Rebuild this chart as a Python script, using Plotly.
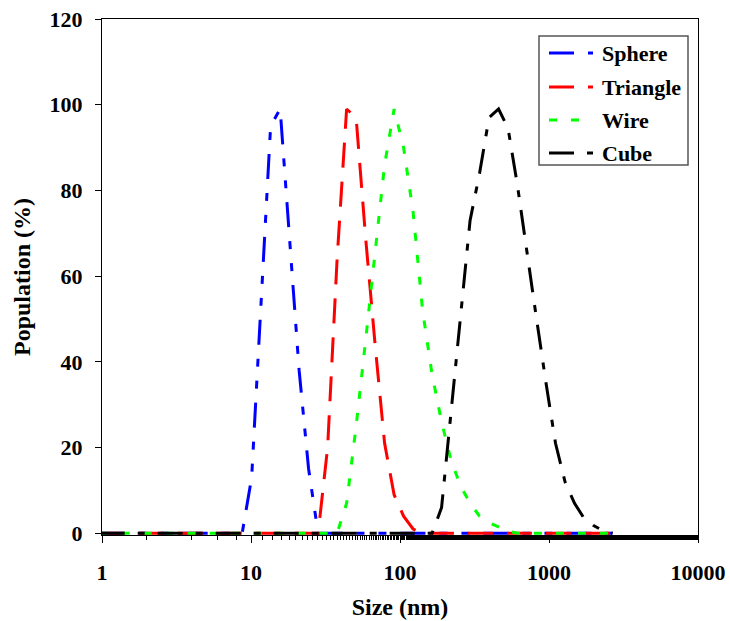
import plotly.graph_objects as go

# Particle size distributions (DLS, number %), one curve per nanoparticle shape
sphere_size = [0.9649, 8.721, 10.10, 11.70, 13.54, 15.69, 18.17, 21.04, 24.36, 28.21, 2669]
sphere_pop = [0, 0, 13, 55, 95, 99, 68, 38, 15, 0, 0]

triangle_size = [0.9649, 28.21, 32.67, 37.84, 43.82, 50.75, 58.77, 68.06, 78.82,
                 91.28, 105.7, 122.4, 141.8, 2669]
triangle_pop = [0, 0, 20, 64, 99, 97, 69, 44, 21, 9, 4, 1, 0, 0]

wire_size = [0.9649, 37.84, 43.82, 50.75, 58.77, 68.06, 78.82, 91.28, 105.7, 122.4,
             141.8, 164.2, 190.1, 220.2, 255.0, 295.3, 342.0, 396.1, 458.7, 531.2,
             615.1, 2669]
wire_pop = [0, 0, 7, 25, 45, 65, 86, 99, 90, 75, 52, 37, 26, 17, 11, 7, 4, 2.5, 1.5,
            0.5, 0, 0]

cube_size = [0.9649, 164.2, 190.1, 220.2, 255.0, 295.3, 342.0, 396.1, 458.7, 531.2,
             615.1, 712.4, 825.0, 955.4, 1106, 1281, 1484, 1718, 1990, 2305, 2669]
cube_pop = [0, 0, 6, 28, 51, 73, 84, 97, 99, 94.5, 81, 65, 50, 35, 21, 12, 7, 3.5,
            1.8, 0.6, 0]

x_tick_vals = [1, 10, 100, 1000, 10000]
x_tick_text = ["1", "10", "100", "1000", "10000"]
y_tick_vals = [0, 20, 40, 60, 80, 100, 120]

series = [
    ("Sphere", sphere_size, sphere_pop, "#0000ff", "25px,14px,8px,14px,8px,14px"),
    ("Triangle", triangle_size, triangle_pop, "#ff0000", "25px,14px"),
    ("Wire", wire_size, wire_pop, "#00ff00", "8px,14px"),
    ("Cube", cube_size, cube_pop, "#000000", "25px,13px,7px,13px"),
]

FONT = "Liberation Serif"
W, H = 730, 621
ML, MR, MT, MB = 102, 32, 19, 86

fig = go.Figure()
for name, xs, ys, color, dash in series:
    fig.add_trace(go.Scatter(
        x=xs, y=ys, mode="lines", name=name,
        line=dict(color=color, width=3, dash=dash),
        showlegend=False,
    ))


def px_to_paper(px, py):
    pw = W - ML - MR
    ph = H - MT - MB
    return (px - ML) / pw, (H - MB - py) / ph


# Framed legend drawn with shapes and text in paper space
box_x0, box_y0 = px_to_paper(539, 36)
box_x1, box_y1 = px_to_paper(688, 165)
fig.add_shape(type="rect", xref="paper", yref="paper",
              x0=box_x0, y0=box_y1, x1=box_x1, y1=box_y0,
              line=dict(color="#555555", width=1.5), fillcolor="white", layer="above")
row_y = [53, 87, 120, 153]
for (name, _, _, color, dash), ry in zip(series, row_y):
    lx0, ly = px_to_paper(549, ry)
    lx1, _ = px_to_paper(593, ry)
    fig.add_shape(type="line", xref="paper", yref="paper",
                  x0=lx0, y0=ly, x1=lx1, y1=ly,
                  line=dict(color=color, width=3, dash=dash), layer="above")
    tx, _ = px_to_paper(600, ry)
    fig.add_annotation(xref="paper", yref="paper", x=tx, y=ly, text=name,
                       showarrow=False, xanchor="left", yanchor="middle",
                       font=dict(family=FONT, size=22, color="black", weight="bold"))

fig.update_xaxes(
    type="log", range=[0, 4],
    tickmode="array", tickvals=x_tick_vals, ticktext=x_tick_text,
    ticks="outside", ticklen=7, tickwidth=1, tickcolor="black",
    minor=dict(ticks="outside", ticklen=4, tickwidth=1, tickcolor="black", showgrid=False),
    showline=True, linecolor="black", linewidth=1, mirror=True,
    showgrid=False, zeroline=False,
    tickfont=dict(family=FONT, size=22, color="black", weight="bold"),
    ticklabelstandoff=11,
    title=dict(text="Size (nm)", standoff=13,
               font=dict(family=FONT, size=24, color="black", weight="bold")),
    automargin=False,
)
fig.update_yaxes(
    range=[-0.4, 120],
    tickmode="array", tickvals=y_tick_vals,
    ticks="outside", ticklen=6, tickwidth=1, tickcolor="black",
    showline=True, linecolor="black", linewidth=1, mirror=True,
    showgrid=False, zeroline=False,
    tickfont=dict(family=FONT, size=22, color="black", weight="bold"),
    ticklabelstandoff=8,
    title=dict(text="Population (%)", standoff=12,
               font=dict(family=FONT, size=24, color="black", weight="bold")),
    automargin=False,
)
fig.update_layout(
    width=W, height=H,
    margin=dict(l=ML, r=MR, t=MT, b=MB),
    paper_bgcolor="white", plot_bgcolor="white",
    showlegend=False,
)

fig.write_html("out.html")
